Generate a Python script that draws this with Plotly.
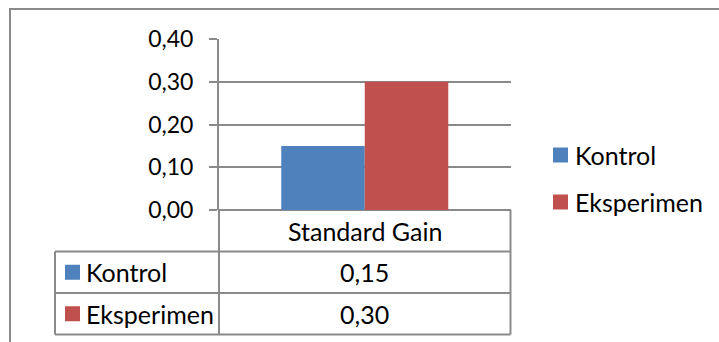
import plotly.graph_objects as go

# Chart data
category = "Standard Gain"
series_names = ["Kontrol", "Eksperimen"]
series_values = [0.15, 0.30]
series_colors = ["#4F81BD", "#C0504D"]
y_ticks = [0.0, 0.1, 0.2, 0.3, 0.4]

W, H = 719, 342
FONT = "Lato"
FS = 25
TICK_FS = 23
LINE = "#8A8A8A"


def fx(px):
    return px / W


def fy(py):
    return 1 - py / H


def fmt(v):
    return f"{v:.2f}".replace(".", ",")


fig = go.Figure()
for name, val, col in zip(series_names, series_values, series_colors):
    fig.add_trace(go.Bar(x=[category], y=[val], name=name, marker=dict(color=col, line=dict(width=0)),
                         showlegend=False))

# plot area boundaries (px)
PL, PR, PT, PB = 219, 510.5, 39, 210
TL, ROW = 55, 41.5

shapes = []
annotations = []

# outer chart frame
shapes.append(dict(type="rect", xref="paper", yref="paper", x0=fx(10), x1=fx(740), y0=fy(9), y1=fy(360),
                   line=dict(color=LINE, width=2)))

# data table grid
for k in (1, 2, 3):
    yl = PB + k * ROW
    shapes.append(dict(type="line", xref="paper", yref="paper", x0=fx(TL), x1=fx(PR), y0=fy(yl), y1=fy(yl),
                       line=dict(color=LINE, width=2)))
shapes.append(dict(type="line", xref="paper", yref="paper", x0=fx(TL), x1=fx(TL), y0=fy(PB + ROW), y1=fy(PB + 3 * ROW),
                   line=dict(color=LINE, width=2)))
shapes.append(dict(type="line", xref="paper", yref="paper", x0=fx(PL), x1=fx(PL), y0=fy(PB), y1=fy(PB + 3 * ROW),
                   line=dict(color=LINE, width=2)))
shapes.append(dict(type="line", xref="paper", yref="paper", x0=fx(PR), x1=fx(PR), y0=fy(PB), y1=fy(PB + 3 * ROW),
                   line=dict(color=LINE, width=2)))

txt_font = dict(family=FONT, size=FS, color="#000")

# table header
annotations.append(dict(text=category, xref="paper", yref="paper", x=fx((PL + PR) / 2), y=fy(PB + ROW / 2),
                        showarrow=False, xanchor="center", yanchor="middle", font=txt_font))

for i, (name, val, col) in enumerate(zip(series_names, series_values, series_colors)):
    cy = PB + ROW * (i + 1.5)
    shapes.append(dict(type="rect", xref="paper", yref="paper", x0=fx(65), x1=fx(80), y0=fy(cy - 7.5), y1=fy(cy + 7.5),
                       fillcolor=col, line=dict(width=0)))
    annotations.append(dict(text=name, xref="paper", yref="paper", x=fx(84), y=fy(cy), showarrow=False,
                            xanchor="left", yanchor="middle", font=txt_font))
    annotations.append(dict(text=fmt(val), xref="paper", yref="paper", x=fx((PL + PR) / 2), y=fy(cy), showarrow=False,
                            xanchor="center", yanchor="middle", font=txt_font))

# legend on the right
for i, (name, col) in enumerate(zip(series_names, series_colors)):
    cy = 155 + 47 * i
    shapes.append(dict(type="rect", xref="paper", yref="paper", x0=fx(553), x1=fx(568), y0=fy(cy - 7.5), y1=fy(cy + 7.5),
                       fillcolor=col, line=dict(width=0)))
    annotations.append(dict(text=name, xref="paper", yref="paper", x=fx(573), y=fy(cy), showarrow=False,
                            xanchor="left", yanchor="middle", font=txt_font))

fig.update_layout(
    width=W, height=H,
    margin=dict(l=0, r=0, t=0, b=0, autoexpand=False),
    paper_bgcolor="white", plot_bgcolor="white",
    separators=",.",
    barmode="group", bargap=0.427, bargroupgap=0,
    font=dict(family=FONT, size=FS, color="#000"),
    xaxis=dict(domain=[fx(PL), fx(PR)], showticklabels=False, showgrid=False, zeroline=False, showline=False,
               ticks="", automargin=False),
    yaxis=dict(domain=[fy(PB), fy(PT)], range=[0, 0.4], tickvals=y_ticks, tickformat=".2f", automargin=False,
               showgrid=True, gridcolor=LINE, gridwidth=2, zeroline=True, zerolinecolor=LINE, zerolinewidth=2,
               showline=True, linecolor=LINE, linewidth=2, ticks="outside", ticklen=8, tickcolor=LINE, tickwidth=2,
               ticklabelstandoff=11, tickfont=dict(family=FONT, size=TICK_FS, color="#000")),
    shapes=shapes,
    annotations=annotations,
)

fig.write_html("out.html")
